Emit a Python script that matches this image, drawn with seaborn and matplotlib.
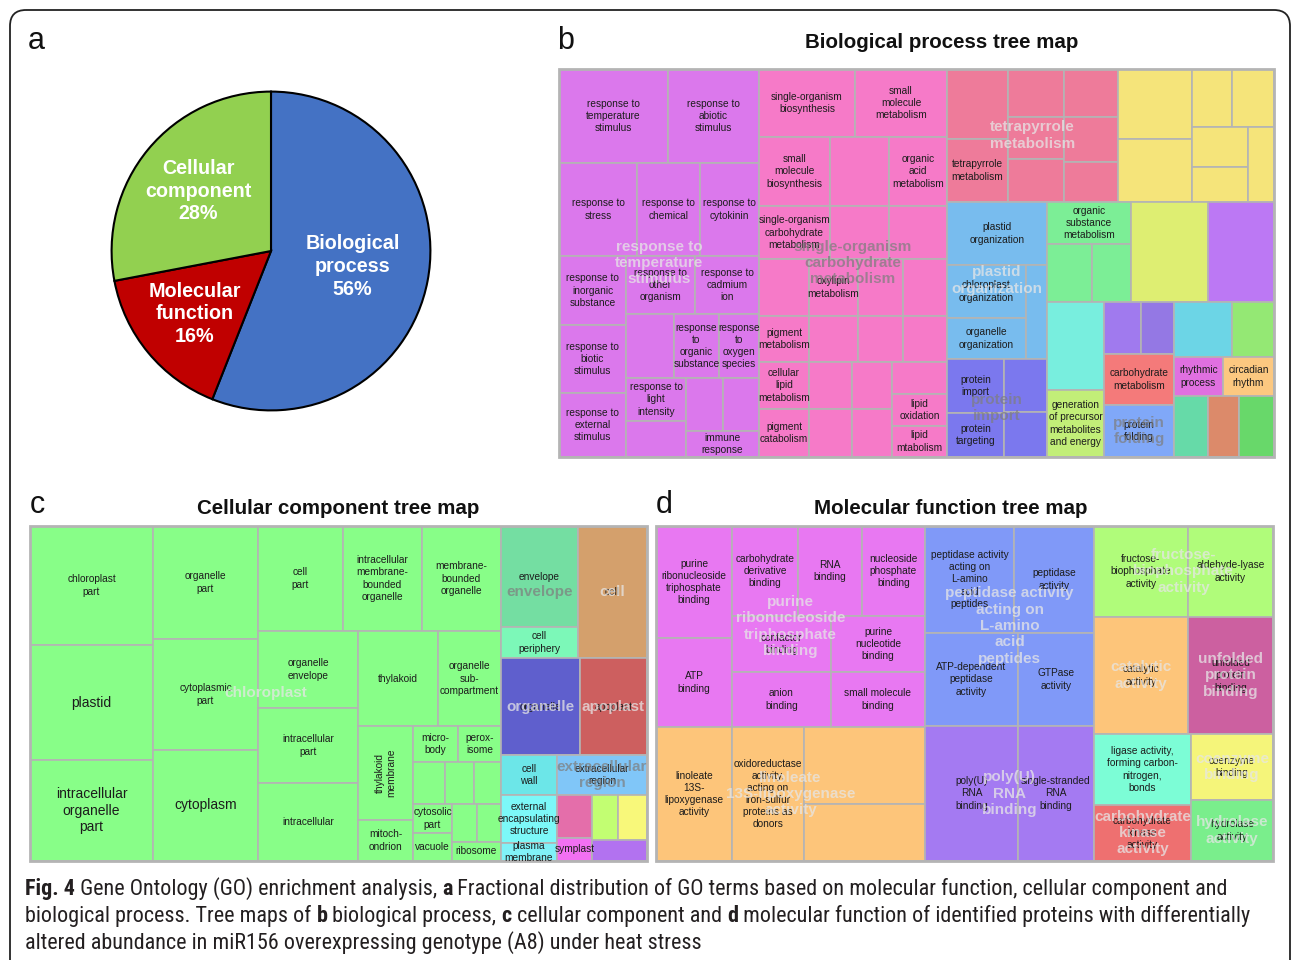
import numpy as np
import matplotlib
matplotlib.use("Agg")
import matplotlib.pyplot as plt
from matplotlib.patches import Rectangle, FancyBboxPatch
from matplotlib import font_manager
import seaborn as sns

sns.set_theme(style="white")
plt.rcParams["font.family"] = ["Liberation Sans", "DejaVu Sans"]

FIG_W, FIG_H = 1292, 960

# ---------------------------------------------------------------- pie data
go_categories = ["Biological\nprocess", "Molecular\nfunction", "Cellular\ncomponent"]
go_percent = [56, 16, 28]
go_colors = ["#4472C4", "#C00000", "#92D050"]


# ---------------------------------------------------------------- treemap helpers
def cell(label, color, group=None, tone="light", size=None, rot=0):
    return {"label": label, "color": color, "group": group, "tone": tone,
            "size": size, "rot": rot}


def row(*parts, group=None, tone="light"):
    """Children placed side by side; each part is (relative size, child)."""
    return {"dir": "h", "parts": parts, "group": group, "tone": tone}


def col(*parts, group=None, tone="light"):
    """Children stacked top to bottom; each part is (relative size, child)."""
    return {"dir": "v", "parts": parts, "group": group, "tone": tone}


# ---------------------------------------------------------------- b: biological process
P_ = "#DB78EC"
K_ = "#F67AC8"
R_ = "#EE7B9A"
Y_ = "#F5E47A"
B_ = "#78BCEE"
PI_ = "#7B78EE"
G_ = "#7CEE96"

bp_resp_lower = row(
    (67, col((69, cell("response to\ninorganic\nsubstance", P_)),
             (68, cell("response to\nbiotic\nstimulus", P_)),
             (64, cell("response to\nexternal\nstimulus", P_)))),
    (133, col(
        (58, row((69, cell("response to\nother\norganism", P_)),
                 (64, cell("response to\ncadmium\nion", P_)))),
        (64, row((48, cell("", P_)),
                 (45, cell("response\nto\norganic\nsubstance", P_)),
                 (40, cell("response\nto\noxygen\nspecies", P_)))),
        (79, row((60, col((43, cell("response to\nlight\nintensity", P_)),
                          (36, cell("", P_)))),
                 (73, col((53, row((37, cell("", P_)), (36, cell("", P_)))),
                          (26, cell("immune\nresponse", P_)))))))))

bp_response = col(
    (94, row((109, cell("response to\ntemperature\nstimulus", P_)),
             (91, cell("response to\nabiotic\nstimulus", P_)))),
    (93, row((78, cell("response to\nstress", P_)),
             (63, cell("response to\nchemical", P_)),
             (59, cell("response to\ncytokinin", P_)))),
    (201, bp_resp_lower),
    group="response to\ntemperature\nstimulus", tone="light")

bp_carb_lower = row(
    (50, col((47, cell("cellular\nlipid\nmetabolism", K_)),
             (48, cell("pigment\ncatabolism", K_)))),
    (43, col((47, cell("", K_)), (48, cell("", K_)))),
    (40, col((47, cell("", K_)), (48, cell("", K_)))),
    (55, col((32, cell("", K_)),
             (32, cell("lipid\noxidation", K_)),
             (31, cell("lipid\nmtabolism", K_)))))

bp_carbohydrate = col(
    (68, row((96, cell("single-organism\nbiosynthesis", K_)),
             (92, cell("small\nmolecule\nmetabolism", K_)))),
    (69, row((71, cell("small\nmolecule\nbiosynthesis", K_)),
             (59, cell("", K_)),
             (58, cell("organic\nacid\nmetabolism", K_)))),
    (53, row((71, cell("single-organism\ncarbohydrate\nmetabolism", K_)),
             (59, cell("", K_)), (58, cell("", K_)))),
    (57, row((50, cell("", K_)), (49, cell("oxylipin\nmetabolism", K_)),
             (45, cell("", K_)), (44, cell("", K_)))),
    (46, row((50, cell("pigment\nmetabolism", K_)), (49, cell("", K_)),
             (45, cell("", K_)), (44, cell("", K_)))),
    (95, bp_carb_lower),
    group="single-organism\ncarbohydrate\nmetabolism", tone="dark")

bp_tetra = row(
    (61, col((70, cell("", R_)), (63, cell("tetrapyrrole\nmetabolism", R_)))),
    (56, col((48, cell("", R_)), (42, cell("", R_)), (43, cell("", R_)))),
    (54, col((48, cell("", R_)), (45, cell("", R_)), (40, cell("", R_)))),
    group="tetrapyrrole\nmetabolism", tone="light")

bp_yellow_right = col(
    (58, row((40, cell("", Y_)), (41, cell("", Y_)))),
    (75, row((55, col((40, cell("", Y_)), (35, cell("", Y_)))),
             (26, cell("", Y_)))))

bp_yellow = row(
    (74, col((70, cell("", Y_)), (63, cell("", Y_)))),
    (82, bp_yellow_right))

bp_plastid = col(
    (63, cell("plastid\norganization", B_)),
    (94, row((79, col((53, cell("chloroplast\norganization", B_)),
                      (41, cell("organelle\norganization", B_)))),
             (21, cell("", B_)))),
    group="plastid\norganization", tone="light")

bp_import = row(
    (57, col((54, cell("protein\nimport", PI_)),
             (44, cell("protein\ntargeting", PI_)))),
    (43, col((53, cell("", PI_)), (45, cell("", PI_)))),
    group="protein\nimport", tone="dark")

bp_misc_top = row(
    (84, col((42, cell("organic\nsubstance\nmetabolism", G_)),
             (58, row((45, cell("", G_)), (39, cell("", G_)))))),
    (77, cell("", "#DEEE72")),
    (66, cell("", "#BC78F4")))

bp_misc_bottom = row(
    (57, col((88, cell("", "#78EEDE")),
             (67, cell("generation\nof precursor\nmetabolites\nand energy", "#C2EE78")))),
    (70, col((52, row((37, cell("", "#A07AEE")), (33, cell("", "#9478E4")))),
             (51, cell("carbohydrate\nmetabolism", "#F47A7A")),
             (52, cell("protein\nfolding", "#80A8F8",
                       group="protein\nfolding", tone="dark")))),
    (100, col((55, row((58, cell("", "#6CD5E6")), (42, cell("", "#94E874")))),
              (39, row((49, cell("rhythmic\nprocess", "#E070E0")),
                       (51, cell("circadian\nrhythm", "#FCC880")))),
              (61, row((34, cell("", "#66DAA8")),
                       (31, cell("", "#DC8A6A")),
                       (35, cell("", "#68D86A")))))))

bp_rest = col(
    (133, row((171, bp_tetra), (156, bp_yellow))),
    (255, row((100, col((157, bp_plastid), (98, bp_import))),
              (227, col((100, bp_misc_top), (155, bp_misc_bottom))))))

bp_tree = row((200, bp_response), (188, bp_carbohydrate), (327, bp_rest))

# ---------------------------------------------------------------- c: cellular component
CG = "#88FE88"
BIG_CC = 10

cc_col1 = col((119, cell("chloroplast\npart", CG)),
              (115, cell("plastid", CG, size=BIG_CC)),
              (101, cell("intracellular\norganelle\npart", CG, size=BIG_CC)))

cc_col2 = col((113, cell("organelle\npart", CG)),
              (111, cell("cytoplasmic\npart", CG)),
              (111, cell("cytoplasm", CG, size=BIG_CC)))

cc_small = col(
    (36, row((45, cell("micro-\nbody", CG)), (43, cell("perox-\nisome", CG)))),
    (42, row((32, cell("", CG)), (29, cell("", CG)), (27, cell("", CG)))),
    (57, row((39, col((29, cell("cytosolic\npart", CG)),
                      (28, cell("vacuole", CG)))),
             (49, col((38, row((25, cell("", CG)), (24, cell("", CG)))),
                      (19, cell("ribosome", CG)))))))

cc_lower = row(
    (55, col((94, cell("thylakoid\nmembrane", CG, rot=90)),
             (41, cell("mitoch-\nondrion", CG)))),
    (88, cc_small))

cc_right = col(
    (95, row((80, cell("thylakoid", CG)),
             (63, cell("organelle\nsub-\ncompartment", CG)))),
    (135, cc_lower))

cc_col3 = col(
    (105, row((85, cell("cell\npart", CG)),
              (79, cell("intracellular\nmembrane-\nbounded\norganelle", CG)),
              (79, cell("membrane-\nbounded\norganelle", CG)))),
    (230, row((100, col((77, cell("organelle\nenvelope", CG)),
                        (75, cell("intracellular\npart", CG)),
                        (78, cell("intracellular", CG)))),
              (143, cc_right))))

cc_chloroplast = row((123, cc_col1), (105, cc_col2), (243, cc_col3),
                     group="chloroplast", tone="light")

cc_other = col(
    (132, row((77, col((101, cell("envelope", "#74DEA2")),
                       (31, cell("cell\nperiphery", "#7CF8B8")),
                       group="envelope", tone="dark")),
              (69, cell("cell", "#D4A06C", group="cell")))),
    (97, row((79, cell("organelle", "#5F5FCD", group="organelle")),
             (67, cell("apoplast", "#CD5F5F", group="apoplast")))),
    (40, row((56, cell("cell\nwall", "#6CE6E8")),
             (90, cell("extracellular\nregion", "#80C6F8",
                       group="extracellular\nregion", tone="dark")))),
    (66, row((56, col((48, cell("external\nencapsulating\nstructure", "#7CF8F8")),
                      (18, cell("plasma\nmembrane", "#80F2F8")))),
             (35, col((43, cell("", "#E46EAA")),
                      (23, cell("symplast", "#F270F2")))),
             (55, col((45, row((26, cell("", "#C2FE72")), (29, cell("", "#F8F87A")))),
                      (21, cell("", "#B272F0")))))))

cc_tree = row((471, cc_chloroplast), (146, cc_other))

# ---------------------------------------------------------------- d: molecular function
M_ = "#E878F2"
O_ = "#FDC57A"
PB_ = "#8099F8"
PV_ = "#A47AF2"
FB_ = "#B0FC7A"

mf_purine = row(
    (76, col((112, cell("purine\nribonucleoside\ntriphosphate\nbinding", M_)),
             (89, cell("ATP\nbinding", M_)))),
    (193, col((90, row((66, cell("carbohydrate\nderivative\nbinding", M_)),
                       (64, cell("RNA\nbinding", M_)),
                       (63, cell("nucleoside\nphosphate\nbinding", M_)))),
              (56, row((99, cell("confactor\nbinding", M_)),
                       (94, cell("purine\nnucleotide\nbinding", M_)))),
              (55, row((99, cell("anion\nbinding", M_)),
                       (94, cell("small molecule\nbinding", M_)))))),
    group="purine\nribonucleoside\ntriphosphate\nbinding")

mf_lino = row(
    (76, cell("linoleate\n13S-\nlipoxygenase\nactivity", O_)),
    (72, cell("oxidoreductase\nactivity,\nacting on\niron-sulfur\nproteins as\ndonors", O_)),
    (121, col((77, cell("", O_)), (57, cell("", O_)))),
    group="linoleate\n13S-lipoxygenase\nactivity")

mf_pept = col(
    (107, row((89, cell("peptidase activity\nacting on\nL-amino\nacid\npeptides", PB_)),
              (80, cell("peptidase\nactivity", PB_)))),
    (93, row((93, cell("ATP-dependent\npeptidase\nactivity", PB_)),
             (76, cell("GTPase\nactivity", PB_)))),
    group="peptidase activity\nacting on\nL-amino\nacid\npeptides")

mf_poly = row(
    (93, cell("poly(U)\nRNA\nbinding", PV_)),
    (76, cell("single-stranded\nRNA\nbinding", PV_)),
    group="poly(U)\nRNA\nbinding")

mf_right = col(
    (91, row((94, cell("fructose-\nbiophosphate\nactivity", FB_)),
             (85, cell("aldehyde-lyase\nactivity", FB_)),
             group="fructose-\nbiophosphate\nactivity")),
    (117, row((94, cell("catalytic\nactivity", O_, group="catalytic\nactivity")),
              (85, cell("unfolded\nprotein\nbinding", "#CC60A0",
                        group="unfolded\nprotein\nbinding")))),
    (127, row((97, col((71, cell("ligase activity,\nforming carbon-\nnitrogen,\nbonds", "#7CFDD6")),
                       (56, cell("carbohydrate\nkinase\nactivity", "#EE7070",
                                 group="carbohydrate\nkinase\nactivity")))),
              (82, col((66, cell("coenzyme\nbinding", "#F5F57A",
                                 group="coenzyme\nbinding")),
                       (61, cell("hydrolase\nactivity", "#7AEE8C",
                                 group="hydrolase\nactivity")))))))

mf_tree = row(
    (269, col((201, mf_purine), (134, mf_lino))),
    (169, col((200, mf_pept), (135, mf_poly))),
    (179, mf_right))

# ---------------------------------------------------------------- caption
caption_lines = [
    [("Fig. 4", True), (" Gene Ontology (GO) enrichment analysis, ", False), ("a", True),
     (" Fractional distribution of GO terms based on molecular function, cellular component and", False)],
    [("biological process. Tree maps of ", False), ("b", True), (" biological process, ", False),
     ("c", True), (" cellular component and ", False), ("d", True),
     (" molecular function of identified proteins with differentially", False)],
    [("altered abundance in miR156 overexpressing genotype (A8) under heat stress", False)],
]

# ---------------------------------------------------------------- drawing
EDGE = "#B4B4B4"
TEXT = "#1C1C1C"


def layout(node, x0, y0, x1, y1, cells, groups):
    if node.get("group"):
        groups.append((x0, y0, x1, y1, node["group"], node["tone"]))
    if "dir" not in node:
        cells.append((x0, y0, x1, y1, node))
        return
    w = np.array([p[0] for p in node["parts"]], dtype=float)
    edges = np.concatenate([[0.0], np.cumsum(w)]) / w.sum()
    for (_, child), a, b in zip(node["parts"], edges[:-1], edges[1:]):
        if node["dir"] == "h":
            layout(child, x0 + a * (x1 - x0), y0, x0 + b * (x1 - x0), y1, cells, groups)
        else:
            layout(child, x0, y0 + a * (y1 - y0), x1, y0 + b * (y1 - y0), cells, groups)


def draw_treemap(ax, tree, small=7.3, big=11):
    ax.set_xlim(0, 1)
    ax.set_ylim(1, 0)
    ax.set_axis_off()
    cells, groups = [], []
    layout(tree, 0, 0, 1, 1, cells, groups)
    for x0, y0, x1, y1, c in cells:
        ax.add_patch(Rectangle((x0, y0), x1 - x0, y1 - y0, facecolor=c["color"],
                               edgecolor=EDGE, linewidth=1.2, zorder=1))
    ax.add_patch(Rectangle((0, 0), 1, 1, facecolor="none", edgecolor=EDGE,
                           linewidth=2.0, zorder=2, clip_on=False))
    for x0, y0, x1, y1, c in cells:
        if c["label"]:
            ax.text((x0 + x1) / 2, (y0 + y1) / 2, c["label"], ha="center", va="center",
                    fontsize=c["size"] or small, color=TEXT, rotation=c["rot"],
                    linespacing=1.26, zorder=3)
    for x0, y0, x1, y1, label, tone in groups:
        color, alpha = ("#E6E6E6", 0.75) if tone == "light" else ("#7E7E7E", 0.72)
        ax.text((x0 + x1) / 2, (y0 + y1) / 2, label, ha="center", va="center",
                fontsize=big, fontweight="bold", color=color, alpha=alpha,
                linespacing=1.22, zorder=4)


fig = plt.figure(figsize=(FIG_W / 100, FIG_H / 100), dpi=100)
fig.patch.set_facecolor("white")

bg = fig.add_axes([0, 0, 1, 1])
bg.set_xlim(0, FIG_W)
bg.set_ylim(FIG_H, 0)
bg.set_axis_off()


def px_axes(x0, y0, x1, y1):
    return fig.add_axes([x0 / FIG_W, 1 - y1 / FIG_H, (x1 - x0) / FIG_W, (y1 - y0) / FIG_H])


# outer rounded frame
bg.add_patch(FancyBboxPatch((10, 10), 1280, 990, boxstyle="round,pad=0,rounding_size=16",
                            fill=False, edgecolor="#222222", linewidth=1.3))

# panel letters and titles
for letter, (x, y) in zip("abcd", [(36, 41), (566, 41), (37, 505), (664, 505)]):
    bg.text(x, y, letter, fontsize=22, ha="center", va="center", color="#111111")
bg.text(942, 43, "Biological process tree map", fontsize=14.8, fontweight="bold",
        ha="center", va="center", color="#111111")
bg.text(338, 508, "Cellular component tree map", fontsize=14.8, fontweight="bold",
        ha="center", va="center", color="#111111")
bg.text(951, 508, "Molecular function tree map", fontsize=14.8, fontweight="bold",
        ha="center", va="center", color="#111111")

# a: pie chart
ax_pie = px_axes(110, 90, 432, 412)
ax_pie.pie(go_percent, colors=go_colors, startangle=90, counterclock=False,
           wedgeprops=dict(edgecolor="black", linewidth=1.5))
ax_pie.set_xlim(-1.01, 1.01)
ax_pie.set_ylim(-1.01, 1.01)
ax_pie.set_aspect("equal")
ax_pie.set_axis_off()
label_r = [0.52, 0.62, 0.59]
start = 90.0
for name, pct, r in zip(go_categories, go_percent, label_r):
    mid = np.deg2rad(start - pct * 3.6 / 2)
    start -= pct * 3.6
    ax_pie.text(r * np.cos(mid), r * np.sin(mid), f"{name}\n{pct}%", ha="center",
                va="center", fontsize=14.2, fontweight="bold", color="white",
                linespacing=1.24)

# b, c, d: tree maps
draw_treemap(px_axes(559, 69, 1274, 457), bp_tree)
draw_treemap(px_axes(30, 526, 647, 861), cc_tree)
draw_treemap(px_axes(656, 526, 1273, 861), mf_tree)


# caption, set in a condensed face when one is available
def caption_font():
    for fam in ["Liberation Sans Narrow", "Roboto Condensed", "Open Sans Condensed",
                "Noto Sans Condensed", "DejaVu Sans Condensed"]:
        try:
            font_manager.findfont(font_manager.FontProperties(family=fam),
                                  fallback_to_default=False)
            return {"family": fam}
        except ValueError:
            pass
    cond = font_manager.FontProperties(family="DejaVu Sans", stretch="condensed")
    if "Condensed" in font_manager.findfont(cond):
        return {"family": "DejaVu Sans", "fontstretch": "condensed"}
    return {"family": "Liberation Sans"}


cap_font = caption_font()
renderer = fig.canvas.get_renderer()


def seg_width(txt, bold, fs):
    kw = dict(fontsize=fs, fontweight="bold" if bold else "normal", **cap_font)
    t1 = bg.text(0, 0, "|" + txt + "|", **kw)
    t2 = bg.text(0, 0, "||", **kw)
    w = t1.get_window_extent(renderer).width - t2.get_window_extent(renderer).width
    t1.remove()
    t2.remove()
    return w


probe = sum(seg_width(t, b, 10) for t, b in caption_lines[0])
cap_fs = min(10 * 1198 / probe, 16.5)
for line, base in zip(caption_lines, [895, 922, 949]):
    x = 25
    for txt, bold in line:
        bg.text(x, base, txt, fontsize=cap_fs, fontweight="bold" if bold else "normal",
                ha="left", va="baseline", color="#231F20", **cap_font)
        x += seg_width(txt, bold, cap_fs)

fig.savefig("out.png", dpi=100, facecolor="white")
